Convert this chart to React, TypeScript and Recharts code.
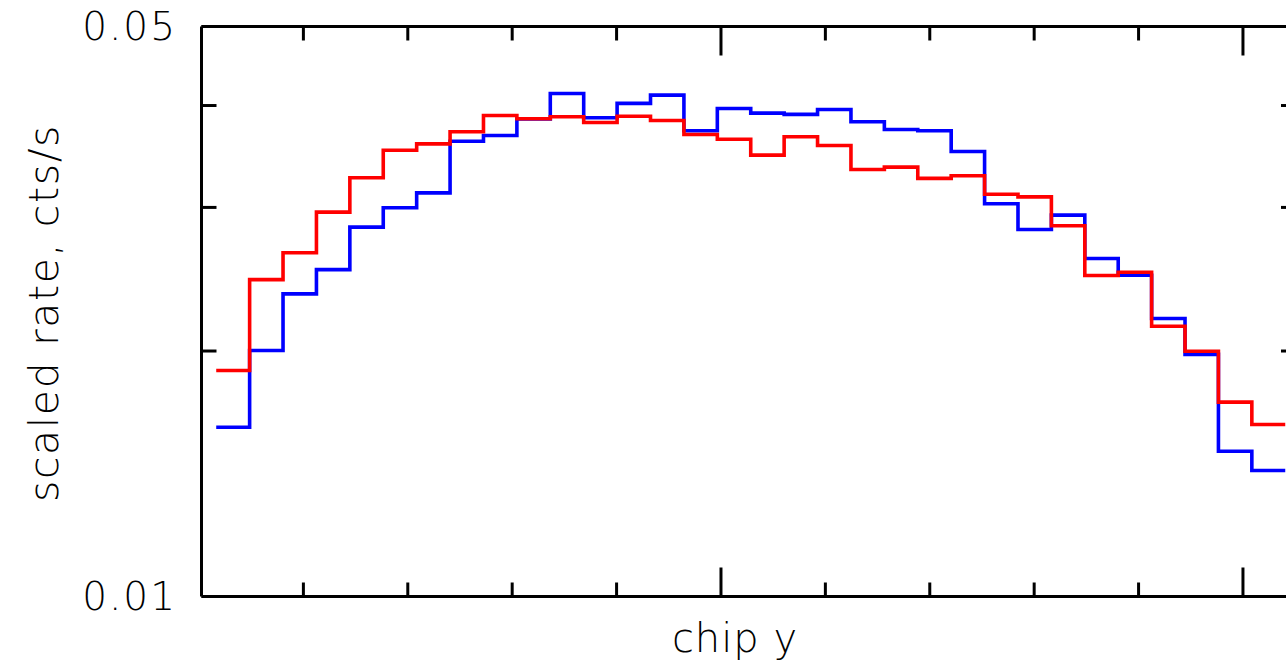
import React from 'react';
import { LineChart, Line, XAxis, YAxis, ReferenceLine, Label } from 'recharts';

// Bin edges along chip y (32 bins of 32 pixels)
const binEdges = [
  16.5, 48.5, 80.5, 112.5, 144.5, 176.5, 208.5, 240.5, 272.5, 304.5, 336.5,
  368.5, 400.5, 432.5, 464.5, 496.5, 528.5, 560.5, 592.5, 624.5, 656.5, 688.5,
  720.5, 752.5, 784.5, 816.5, 848.5, 880.5, 912.5, 944.5, 976.5, 1008.5, 1040.5,
];

// Blue series: scaled rate per bin (cts/s)
const blueRate = [
  0.01613, 0.02003, 0.0235, 0.02517, 0.02838, 0.02997, 0.03126, 0.03617,
  0.03676, 0.0385, 0.04139, 0.03864, 0.04024, 0.04119, 0.03725, 0.03967,
  0.03915, 0.03901, 0.03956, 0.03821, 0.03738, 0.03725, 0.03513, 0.03031,
  0.02819, 0.02935, 0.02597, 0.02477, 0.02192, 0.01981, 0.01507, 0.01427,
];

// Red series: scaled rate per bin (cts/s)
const redRate = [
  0.01893, 0.02447, 0.02639, 0.0296, 0.03262, 0.03526, 0.0359, 0.03714,
  0.03889, 0.03853, 0.03875, 0.03813, 0.03881, 0.03835, 0.03686, 0.03637,
  0.03477, 0.03662, 0.03573, 0.03339, 0.03361, 0.03256, 0.03281, 0.03114,
  0.03091, 0.02849, 0.02475, 0.02498, 0.02145, 0.01999, 0.01731, 0.01625,
];

const xTicks = [100, 200, 300, 400, 500, 600, 700, 800, 900, 1000];
const xMajorTicks = [500, 1000];
const yTicks = [0.01, 0.02, 0.03, 0.04, 0.05];
const yMajorTicks = [0.01, 0.05];
const yTickLabels: Record<string, string> = { '0.01': '0.01', '0.05': '0.05' };

const X_MIN = 2.4;
const X_MAX = 1050.8;

// layout constants
const CHART_W = 1310;
const CHART_H = 665;
const PLOT_LEFT = 201.5;
const PLOT_RIGHT = 1296;
const PLOT_TOP = 26.5;
const PLOT_BOTTOM = 596.5;
const Y_AXIS_W = 60;
const X_AXIS_H = 30;
const FONT = '"DejaVu Sans", "Noto Sans", sans-serif';

const data = binEdges.map((e, i) => ({
  x: e,
  blue: blueRate[Math.min(i, blueRate.length - 1)],
  red: redRate[Math.min(i, redRate.length - 1)],
}));

function XTick(props: any) {
  const { payload } = props;
  const x = payload.coordinate;
  const len = xMajorTicks.includes(payload.value) ? 29 : 14;
  return (
    <g>
      <line x1={x} y1={PLOT_BOTTOM} x2={x} y2={PLOT_BOTTOM - len} stroke="#000" strokeWidth={3} />
      <line x1={x} y1={PLOT_TOP} x2={x} y2={PLOT_TOP + len} stroke="#000" strokeWidth={3} />
    </g>
  );
}

function YTick(props: any) {
  const { payload } = props;
  const y = payload.coordinate;
  const major = yMajorTicks.includes(payload.value);
  const len = major ? 30 : 15;
  const label = yTickLabels[String(payload.value)];
  return (
    <g>
      <line x1={PLOT_LEFT} y1={y} x2={PLOT_LEFT + len} y2={y} stroke="#000" strokeWidth={3} />
      <line x1={PLOT_RIGHT} y1={y} x2={PLOT_RIGHT - len} y2={y} stroke="#000" strokeWidth={3} />
      {label && (
        <text
          x={177}
          y={y + 13.5}
          textAnchor="end"
          fontFamily={FONT}
          fontWeight={200}
          fontSize={39}
          letterSpacing={2}
          fill="#000"
        >
          {label}
        </text>
      )}
    </g>
  );
}

export default function App() {
  return (
    <div
      style={{
        position: 'absolute',
        left: 0,
        top: 0,
        width: 1286,
        height: 665,
        overflow: 'hidden',
        background: '#fff',
      }}
    >
      <LineChart
        width={CHART_W}
        height={CHART_H}
        data={data}
        margin={{
          top: PLOT_TOP,
          left: PLOT_LEFT - Y_AXIS_W,
          right: CHART_W - PLOT_RIGHT,
          bottom: CHART_H - PLOT_BOTTOM - X_AXIS_H,
        }}
      >
        <XAxis
          type="number"
          dataKey="x"
          domain={[X_MIN, X_MAX]}
          allowDataOverflow
          ticks={xTicks}
          interval={0}
          tick={<XTick />}
          tickLine={false}
          tickSize={0}
          tickMargin={0}
          height={X_AXIS_H}
          axisLine={{ stroke: '#000', strokeWidth: 3 }}
        >
          <Label
            content={() => (
              <text
                x={735}
                y={652}
                textAnchor="middle"
                fontFamily={FONT}
                fontWeight={200}
                fontSize={40}
                letterSpacing={1}
                fill="#000"
              >
                chip y
              </text>
            )}
          />
        </XAxis>
        <YAxis
          type="number"
          scale="log"
          domain={[0.01, 0.05]}
          allowDataOverflow
          ticks={yTicks}
          interval={0}
          tick={<YTick />}
          tickLine={false}
          tickSize={0}
          tickMargin={0}
          width={Y_AXIS_W}
          axisLine={{ stroke: '#000', strokeWidth: 3 }}
        >
          <Label
            content={() => (
              <text
                x={58}
                y={313}
                transform="rotate(-90, 58, 313)"
                textAnchor="middle"
                fontFamily={FONT}
                fontWeight={200}
                fontSize={41}
                letterSpacing={1.6}
                fill="#000"
              >
                scaled rate, cts/s
              </text>
            )}
          />
        </YAxis>
        <ReferenceLine y={0.05} stroke="#000" strokeWidth={3} />
        <ReferenceLine x={X_MAX} stroke="#000" strokeWidth={3} />
        <Line
          type="stepAfter"
          dataKey="blue"
          stroke="#0000ff"
          strokeWidth={3.6}
          dot={false}
          activeDot={false}
          isAnimationActive={false}
        />
        <Line
          type="stepAfter"
          dataKey="red"
          stroke="#ff0000"
          strokeWidth={3.6}
          dot={false}
          activeDot={false}
          isAnimationActive={false}
        />
      </LineChart>
    </div>
  );
}
